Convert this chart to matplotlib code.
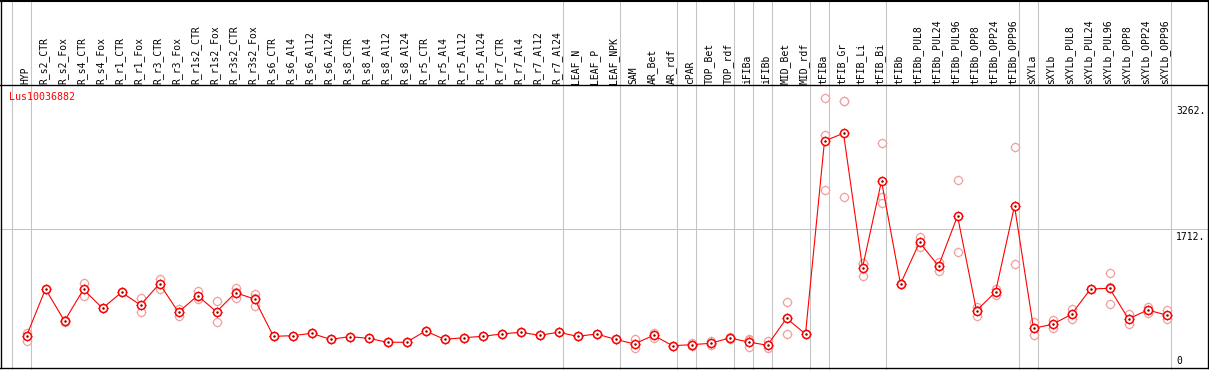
import matplotlib
matplotlib.use("Agg")
import matplotlib.pyplot as plt

gene = "Lus10036882"
samples = ["HYP", "R_s2_CTR", "R_s2_Fox", "R_s4_CTR", "R_s4_Fox", "R_r1_CTR", "R_r1_Fox",
           "R_r3_CTR", "R_r3_Fox", "R_r1s2_CTR", "R_r1s2_Fox", "R_r3s2_CTR", "R_r3s2_Fox",
           "R_s6_CTR", "R_s6_Al4", "R_s6_Al12", "R_s6_Al24", "R_s8_CTR", "R_s8_Al4",
           "R_s8_Al12", "R_s8_Al24", "R_r5_CTR", "R_r5_Al4", "R_r5_Al12", "R_r5_Al24",
           "R_r7_CTR", "R_r7_Al4", "R_r7_Al12", "R_r7_Al24", "LEAF_N", "LEAF_P", "LEAF_NPK",
           "SAM", "AR_Bet", "AR_rdf", "cPAR", "TOP_Bet", "TOP_rdf", "iFIBa", "iFIBb",
           "MID_Bet", "MID_rdf", "tFIBa", "tFIB_Gr", "tFIB_Li", "tFIB_Bi", "tFIBb",
           "tFIBb_PUL8", "tFIBb_PUL24", "tFIBb_PUL96", "tFIBb_OPP8", "tFIBb_OPP24",
           "tFIBb_OPP96", "sXYLa", "sXYLb", "sXYLb_PUL8", "sXYLb_PUL24", "sXYLb_PUL96",
           "sXYLb_OPP8", "sXYLb_OPP24", "sXYLb_OPP96"]

means = [394, 973, 579, 969, 735, 932, 776, 1038, 686, 891, 693, 927, 850,
         390, 398, 427, 353, 386, 366, 317, 317, 456, 353, 373, 390,
         419, 440, 403, 440, 390, 419, 353,
         296, 403, 275, 287, 304, 370, 320, 280,
         612, 419, 2796, 2891, 1235, 2303, 1035,
         1548, 1256, 1872, 706, 936, 1995,
         489, 538, 661, 973, 982, 604, 714, 653]

rep1 = [435, 973, 591, 1043, 735, 932, 858, 1096, 723, 952, 829, 989, 915,
        390, 398, 427, 353, 386, 366, 317, 317, 456, 353, 373, 390,
        419, 440, 403, 440, 390, 419, 353,
        357, 435, 275, 312, 333, 382, 361, 329,
        809, 419, 3322, 3292, 1277, 2768, 1035,
        1617, 1309, 2316, 755, 969, 2718,
        563, 591, 727, 973, 1166, 661, 755, 714]
rep2 = [394, 973, 579, 969, 735, 932, 776, 1038, 686, 866, 693, 858, 868,
        390, 398, 427, 353, 386, 366, 317, 317, 456, 353, 373, 390,
        419, 440, 403, 440, 390, 419, 353,
        288, 408, 275, 278, 296, 370, 344, 268,
        612, 419, 2870, 3292, 1291, 2110, 1035,
        1533, 1261, 1875, 719, 940, 1990,
        498, 534, 652, 973, 992, 609, 713, 645]
rep3 = [336, 973, 567, 887, 735, 932, 693, 977, 644, 855, 563, 934, 767,
        390, 398, 427, 353, 386, 366, 317, 317, 456, 353, 373, 390,
        419, 440, 403, 440, 390, 419, 353,
        243, 366, 275, 271, 283, 357, 255, 243,
        415, 419, 2189, 2103, 1137, 2029, 1035,
        1494, 1198, 1425, 644, 899, 1277,
        406, 489, 604, 973, 788, 542, 674, 600]

group_ends = [-1, 0, 28, 31, 34, 35, 37, 38, 39, 41, 42, 45, 52, 53, 60]
ytick_vals = [3262, 1712, 0]
ytick_labels = ["3262.", "1712.", "0"]

# ---- layout (pixels) ----
W, H = 1209, 370
X0, DX = 26.5, 19.0          # first column centre and column spacing
Y0, PXV = 368.0, 139.0 / 1712  # zero line and pixels per unit
HEAD = 85.0                  # header separator
RIGHT = 1207.5

def vy(p):   # pixel row -> value
    return (Y0 - p) / PXV

def ix(p):   # pixel column -> index
    return (p - X0) / DX

fig = plt.figure(figsize=(W / 100, H / 100), dpi=100)
ax = fig.add_axes([0, 0, 1, 1])
ax.set_xlim(ix(0), ix(W))
ax.set_ylim(vy(H), vy(0))
ax.axis("off")

FONT = "DejaVu Sans Mono"
grey = "#c4c4c4"
lw1 = 0.75

# group separators
for g in group_ends:
    ax.axvline(g + 0.24, color=grey, lw=lw1, zorder=1)
# horizontal grid at middle tick
ax.plot([ix(0), ix(RIGHT)], [1712, 1712], color=grey, lw=lw1, zorder=1)

# frame lines
ax.plot([ix(0), ix(W)], [vy(0.7), vy(0.7)], color="black", lw=1.5, zorder=5)
ax.plot([ix(0), ix(RIGHT)], [vy(HEAD), vy(HEAD)], color="black", lw=lw1 * 1.3, zorder=5)
ax.plot([ix(0), ix(RIGHT)], [vy(Y0), vy(Y0)], color="black", lw=lw1 * 1.3, zorder=5)
ax.plot([ix(0.8), ix(0.8)], [vy(0), vy(Y0)], color="black", lw=lw1 * 1.3, zorder=5)
ax.plot([ix(RIGHT), ix(RIGHT)], [vy(0), vy(Y0)], color="black", lw=lw1 * 1.3, zorder=5)

# header labels
for i, s in enumerate(samples):
    ax.text(i - 1.5 / DX, vy(83.5), s, rotation=90, ha="center", va="bottom",
            fontsize=7, family=FONT, color="black", zorder=6)

# gene title
ax.text(ix(9), vy(97), gene, ha="left", va="center", fontsize=7.2, family=FONT,
        color="red", zorder=6)

# right axis labels
for v, lab in zip(ytick_vals, ytick_labels):
    if v == 0:
        ax.text(ix(1176), vy(Y0 - 1.5), lab, ha="left", va="bottom", fontsize=7,
                family=FONT, color="black")
    else:
        ax.text(ix(1176), v - 3 / PXV, lab, ha="left", va="top", fontsize=7,
                family=FONT, color="black")

x = list(range(len(samples)))
ms = 5.8
pink = "#f0a0a0"
for reps in (rep1, rep2, rep3):
    ax.plot(x, reps, ls="none", marker="+", ms=7.6, mec=pink, mew=0.6, zorder=2)
for reps in (rep1, rep2, rep3):
    ax.plot(x, reps, ls="none", marker="o", ms=ms, mfc="white", mec=pink, mew=0.9, zorder=2.5)

ax.plot(x, means, color="red", lw=0.8, zorder=4)
ax.plot(x, means, ls="none", marker="+", ms=7.8, mec="red", mew=0.7, zorder=4.5)
ax.plot(x, means, ls="none", marker="o", ms=ms, mfc="white", mec="red", mew=1.1, zorder=4.6)
ax.plot(x, means, ls="none", marker=".", ms=1.6, mfc="#800000", mec="#800000", zorder=4.7)

fig.savefig("out.png", dpi=100)
